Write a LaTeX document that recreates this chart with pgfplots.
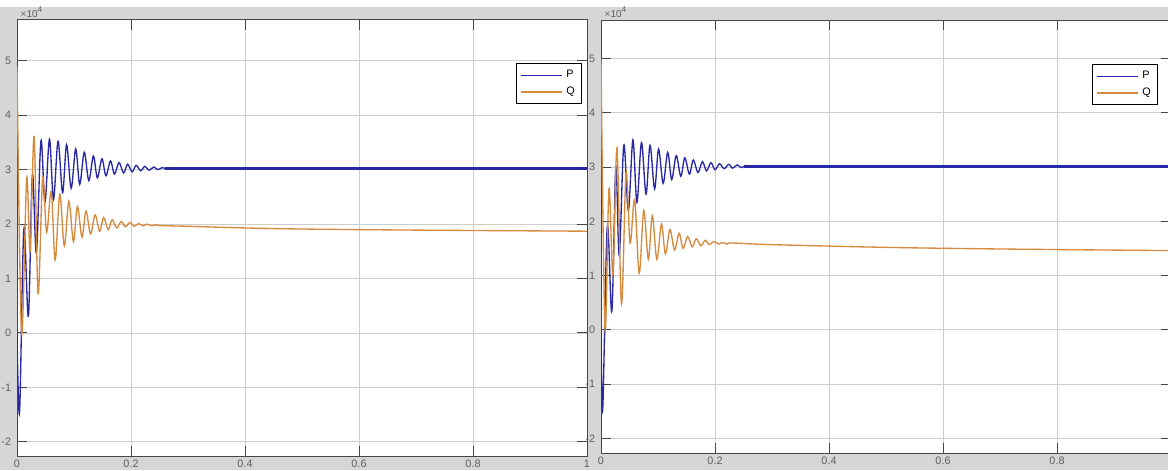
\documentclass[border=0pt]{standalone}
\usepackage{pgfplots}
\pgfplotsset{compat=1.18}
\usepackage{fontspec}
\setmainfont{Liberation Sans}
\definecolor{figgray}{RGB}{214,214,214}
\definecolor{pcol}{RGB}{40,40,165}
\definecolor{qcol}{RGB}{214,138,62}
\definecolor{gridc}{RGB}{205,205,205}
\definecolor{axc}{RGB}{70,70,70}
\definecolor{labc}{RGB}{95,95,95}
\pgfplotsset{
  mstyle/.style={
    scale only axis,
    width=342pt,
    xmin=0, xmax=1,
    ytick={-2,-1,0,1,2,3,4,5},
    grid=major,
    major grid style={gridc, line width=0.5pt},
    axis line style={axc, line width=0.6pt},
    tick style={axc, line width=0.6pt},
    major tick length=6pt,
    tick align=inside,
    /pgf/number format/assume math mode=true,
    ticklabel style={font=\fontsize{6.5}{7}\selectfont, text=labc},
    xticklabel style={yshift=1.2pt},
    axis background/.style={fill=white},
    legend cell align=left,
    legend image code/.code={\draw[##1] (0pt,0pt) -- (25pt,0pt);},
    legend style={draw=black, line width=0.6pt, fill=white,
      font=\fontsize{6.5}{8}\selectfont, inner sep=2pt, row sep=0pt,
      /tikz/every even column/.append style={column sep=2pt}},
    every axis plot/.append style={smooth, tension=0.55},
  }
}
\begin{document}
\begin{tikzpicture}
\path[use as bounding box] (0,0) rectangle (700.8pt,282pt);
\fill[figgray] (0,0) rectangle (700.8pt,277.8pt);
% ---------- left ----------
\begin{axis}[mstyle, name=L, at={(10.2pt,8.4pt)}, anchor=south west, height=261.6pt,
  ymin=-2.26, ymax=5.75, xtick={0,0.2,0.4,0.6,0.8,1},
  legend style={at={(0.991,0.901)}, anchor=north east}]
\addplot[pcol, line width=0.8pt] coordinates {
(0,0) (0.0045,-1.46) (0.012,1.9) (0.020,0.31) (0.027,2.9) (0.034,1.47)
(0.042,3.53) (0.049,2.40) (0.057,3.56) (0.064,2.45) (0.072,3.52) (0.080,2.58)
(0.087,3.46) (0.095,2.66) (0.103,3.38) (0.110,2.73) (0.118,3.32) (0.126,2.80)
(0.134,3.25) (0.141,2.85) (0.149,3.20) (0.156,2.89) (0.164,3.16) (0.171,2.92)
(0.179,3.13) (0.187,2.94) (0.194,3.10) (0.202,2.96) (0.209,3.08) (0.217,2.98)
(0.224,3.06) (0.232,2.99) (0.240,3.05) (0.247,3.00) (0.255,3.04) (0.262,3.01)
(0.270,3.03) (0.28,3.02)};
\addlegendentry{P}
\addplot[qcol, line width=0.8pt] coordinates {
(0,4.9) (0.008,0.0) (0.017,2.84) (0.023,1.5) (0.030,3.61) (0.037,0.72)
(0.045,2.85) (0.052,1.85) (0.060,2.6) (0.067,1.34) (0.075,2.55) (0.083,1.6)
(0.091,2.42) (0.099,1.68) (0.106,2.32) (0.114,1.76) (0.121,2.24) (0.129,1.82)
(0.137,2.17) (0.145,1.87) (0.152,2.12) (0.160,1.90) (0.167,2.08) (0.175,1.93)
(0.183,2.05) (0.190,1.95) (0.198,2.03) (0.206,1.96) (0.213,2.01) (0.221,1.97)
(0.228,2.0) (0.236,1.97) (0.244,1.99) (0.25,1.975) (0.3,1.96) (0.4,1.93)
(0.5,1.91) (0.7,1.89) (1.0,1.87)};
\addlegendentry{Q}
\addplot[pcol, line width=1.7pt, sharp plot, forget plot] coordinates {(0.26,3.02) (1,3.02)};
\end{axis}
\node[anchor=south west, inner sep=0pt, font=\fontsize{6}{7}\selectfont, text=labc]
  at ([xshift=2pt,yshift=1.5pt]L.north west) {×10\textsuperscript{4}};
% ---------- right ----------
\begin{axis}[mstyle, name=R, at={(360.6pt,10.2pt)}, anchor=south west, height=259.8pt,
  ymin=-2.27, ymax=5.71, xtick={0,0.2,0.4,0.6,0.8},
  legend style={at={(0.977,0.898)}, anchor=north east}]
\addplot[pcol, line width=0.8pt] coordinates {
(0,0) (0.003,-1.47) (0.011,1.9) (0.019,0.34) (0.026,3.0) (0.032,1.37)
(0.040,3.4) (0.048,2.2) (0.056,3.5) (0.063,2.35) (0.071,3.45) (0.079,2.5)
(0.086,3.4) (0.094,2.6) (0.101,3.33) (0.109,2.7) (0.117,3.27) (0.124,2.77)
(0.132,3.21) (0.140,2.83) (0.147,3.17) (0.155,2.87) (0.162,3.13) (0.170,2.9)
(0.178,3.1) (0.185,2.93) (0.193,3.08) (0.2,2.95) (0.208,3.06) (0.216,2.97)
(0.224,3.05) (0.231,2.98) (0.239,3.04) (0.246,2.99) (0.254,3.03) (0.26,3.01)};
\addlegendentry{P}
\addplot[qcol, line width=0.8pt] coordinates {
(0,5.0) (0.007,0.0) (0.014,2.6) (0.021,1.0) (0.028,3.35) (0.036,0.48)
(0.044,2.9) (0.051,1.6) (0.059,2.4) (0.067,1.04) (0.075,2.2) (0.083,1.3)
(0.090,2.1) (0.098,1.30) (0.106,1.95) (0.113,1.4) (0.121,1.85) (0.129,1.47)
(0.137,1.78) (0.144,1.5) (0.152,1.72) (0.160,1.53) (0.167,1.68) (0.175,1.55)
(0.183,1.65) (0.190,1.57) (0.198,1.63) (0.206,1.58) (0.213,1.61) (0.221,1.58)
(0.23,1.60) (0.3,1.57) (0.5,1.52) (0.7,1.49) (1.0,1.46)};
\addlegendentry{Q}
\addplot[pcol, line width=1.7pt, sharp plot, forget plot] coordinates {(0.25,3.01) (1,3.01)};
\end{axis}
\node[anchor=south west, inner sep=0pt, font=\fontsize{6}{7}\selectfont, text=labc]
  at ([xshift=2pt,yshift=1.5pt]R.north west) {×10\textsuperscript{4}};
\end{tikzpicture}
\end{document}
